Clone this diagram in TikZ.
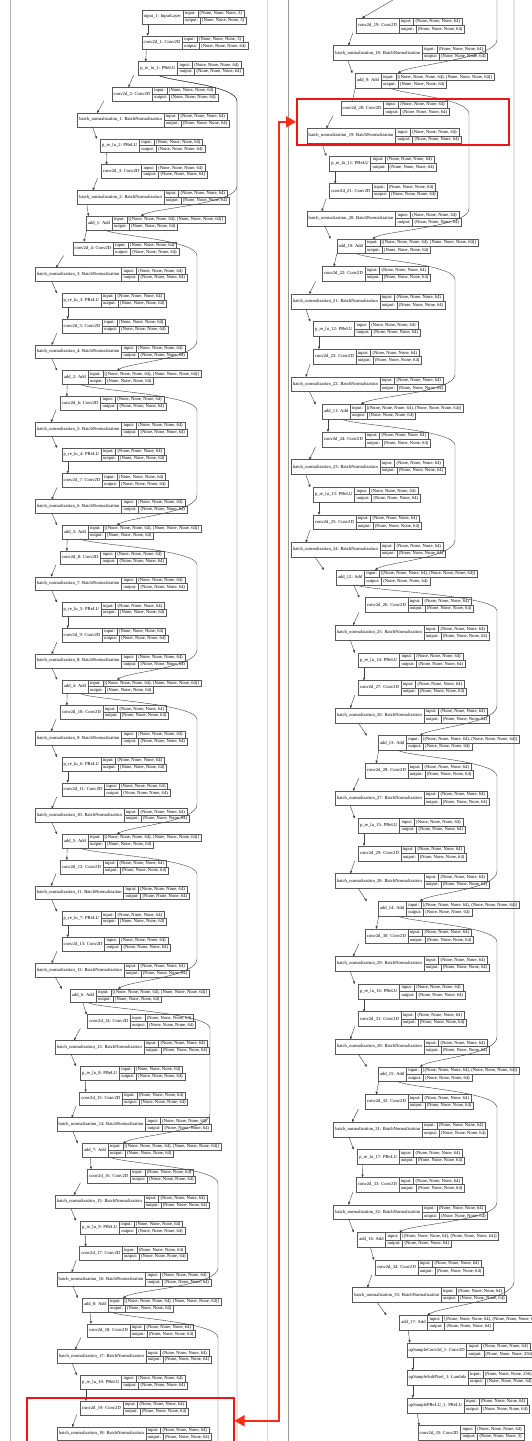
\documentclass[tikz,border=0pt]{standalone}
\usepackage{fontspec}
\setmainfont{Liberation Serif}
\usetikzlibrary{arrows.meta,calc}

\definecolor{boxred}{RGB}{240,20,20}
\definecolor{arrowred}{RGB}{250,45,20}

\newcommand\lyrfont{\fontsize{4.6}{5}\selectfont}
\newcommand\shsf{(None, None, None, 64)}
\newcommand\shadd{[(None, None, None, 64), (None, None, None, 64)]}

\newlength\lyrn \newlength\lyri \newlength\lyrs \newlength\lyrt \newlength\lyrw
% one keras layer: id, left x, row, name, input shape, output shape
\newcommand\kbox[6]{%
	\settowidth\lyrn{\lyrfont #4}\addtolength\lyrn{4pt}%
	\settowidth\lyri{\lyrfont output:}\addtolength\lyri{4pt}%
	\settowidth\lyrs{\lyrfont #5}\settowidth\lyrt{\lyrfont #6}%
	\ifdim\lyrt>\lyrs \setlength\lyrs{\lyrt}\fi
	\addtolength\lyrs{4pt}%
	\setlength\lyrw{\lyrn}\addtolength\lyrw{\lyri}\addtolength\lyrw{\lyrs}%
	\node[namecell, minimum width=\lyrn, anchor=north west] (#1) at (#2, \colytop+\colstep*#3) {#4};
	\node[halfcell, minimum width=\lyri, anchor=north west] (#1-i) at (#1.north east) {input:};
	\node[halfcell, minimum width=\lyri, anchor=north west] (#1-o) at (#1-i.south west) {output:};
	\node[halfcell, minimum width=\lyrs, anchor=north west] (#1-a) at (#1-i.north east) {#5};
	\node[halfcell, minimum width=\lyrs, anchor=north west] (#1-b) at (#1-o.north east) {#6};
	\coordinate (#1n) at ([xshift=0.5\lyrw]#1.north west);
	\coordinate (#1s) at ([xshift=0.5\lyrw]#1.south west);
}
% main flow between two layers
\newcommand\kflow[2]{\draw[link] ($(#1s)!0.4!(#1s -| #2n)$) -- ($(#2n)!0.4!(#2n -| #1s)$);}
% residual skip: from, to, start shift, x of the bend, end shift
\newcommand\kskip[5]{%
	\draw[link] ([xshift=#3]#1s) .. controls ([xshift=#3+10pt, yshift=-6pt]#1s) and ($(#4,0 |- #1s)+(0,10)$) .. ($(#4,0 |- #1s)+(0,26)$)
		-- ($(#4,0 |- #2n)+(0,-30)$) .. controls ($(#4,0 |- #2n)+(0,-12)$) and ([xshift=#5+12pt, yshift=8pt]#2n) .. ([xshift=#5]#2n);}

\begin{document}
\begin{tikzpicture}[x=1pt, y=-1pt,
		cell/.style={draw=black!65, line width=0.4pt, font=\lyrfont, inner xsep=2pt, inner ysep=0pt, outer sep=0pt, text height=3.2pt, text depth=1pt},
		namecell/.style={cell, minimum height=\rowh pt},
		halfcell/.style={cell, minimum height=0.5*\rowh pt},
		link/.style={draw=black!75, line width=0.4pt, -{Triangle[length=2.6pt, width=2.2pt]}},
		wire/.style={draw=black!75, line width=0.4pt},
		redbox/.style={draw=boxred, line width=1.6pt, inner sep=0pt, fill=none},
		redarrow/.style={draw=arrowred, line width=1.8pt, {Triangle[length=10pt, width=11pt]}-{Triangle[length=10pt, width=11pt]}}]
		\useasboundingbox (0,0) rectangle (532,1441);
		\fill[white] (0,0) rectangle (532,1441);
		\clip (0,0) rectangle (532,1441);
		\draw[black!30, line width=0.6pt] (10,0) -- (10,1441);
		\draw[black!15, line width=0.6pt] (267,0) -- (267,1441);
		\draw[black!40, line width=0.6pt] (288,0) -- (288,1441);
		%%%%%%%%% left column
		\def\colytop{10}\def\colstep{25.76}\def\rowh{13.7}
		\kbox{in1}{141.7}{0}{input\_1: InputLayer}{(None, None, None, 3)}{(None, None, None, 3)}
		\kbox{cv1}{141.7}{1}{conv2d\_1: Conv2D}{(None, None, None, 3)}{\shsf}
		\kbox{pr1}{138.3}{2}{p\_re\_lu\_1: PReLU}{\shsf}{\shsf}
		\kbox{cv2}{111.7}{3}{conv2d\_2: Conv2D}{\shsf}{\shsf}
		\kbox{bn1}{77.3}{4}{batch\_normalization\_1: BatchNormalization}{\shsf}{\shsf}
		\kbox{pr2}{100}{5}{p\_re\_lu\_2: PReLU}{\shsf}{\shsf}
		\kbox{cv3}{101}{6}{conv2d\_3: Conv2D}{\shsf}{\shsf}
		\kbox{bn2}{77.3}{7}{batch\_normalization\_2: BatchNormalization}{\shsf}{\shsf}
		\kbox{ad1}{86}{8}{add\_1: Add}{\shadd}{\shsf}
		\kbox{cv4}{72.7}{9}{conv2d\_4: Conv2D}{\shsf}{\shsf}
		\kbox{bn3}{35}{10}{batch\_normalization\_3: BatchNormalization}{\shsf}{\shsf}
		\kbox{pr3}{61.7}{11}{p\_re\_lu\_3: PReLU}{\shsf}{\shsf}
		\kbox{cv5}{61.7}{12}{conv2d\_5: Conv2D}{\shsf}{\shsf}
		\kbox{bn4}{35}{13}{batch\_normalization\_4: BatchNormalization}{\shsf}{\shsf}
		\kbox{ad2}{62}{14}{add\_2: Add}{\shadd}{\shsf}
		\kbox{cv6}{60}{15}{conv2d\_6: Conv2D}{\shsf}{\shsf}
		\kbox{bn5}{35}{16}{batch\_normalization\_5: BatchNormalization}{\shsf}{\shsf}
		\kbox{pr4}{61.7}{17}{p\_re\_lu\_4: PReLU}{\shsf}{\shsf}
		\kbox{cv7}{61.7}{18}{conv2d\_7: Conv2D}{\shsf}{\shsf}
		\kbox{bn6}{35}{19}{batch\_normalization\_6: BatchNormalization}{\shsf}{\shsf}
		\kbox{ad3}{62}{20}{add\_3: Add}{\shadd}{\shsf}
		\kbox{cv8}{60}{21}{conv2d\_8: Conv2D}{\shsf}{\shsf}
		\kbox{bn7}{35}{22}{batch\_normalization\_7: BatchNormalization}{\shsf}{\shsf}
		\kbox{pr5}{61.7}{23}{p\_re\_lu\_5: PReLU}{\shsf}{\shsf}
		\kbox{cv9}{61.7}{24}{conv2d\_9: Conv2D}{\shsf}{\shsf}
		\kbox{bn8}{35}{25}{batch\_normalization\_8: BatchNormalization}{\shsf}{\shsf}
		\kbox{ad4}{62}{26}{add\_4: Add}{\shadd}{\shsf}
		\kbox{cv10}{60}{27}{conv2d\_10: Conv2D}{\shsf}{\shsf}
		\kbox{bn9}{35}{28}{batch\_normalization\_9: BatchNormalization}{\shsf}{\shsf}
		\kbox{pr6}{61.7}{29}{p\_re\_lu\_6: PReLU}{\shsf}{\shsf}
		\kbox{cv11}{61.7}{30}{conv2d\_11: Conv2D}{\shsf}{\shsf}
		\kbox{bn10}{35}{31}{batch\_normalization\_10: BatchNormalization}{\shsf}{\shsf}
		\kbox{ad5}{62}{32}{add\_5: Add}{\shadd}{\shsf}
		\kbox{cv12}{60}{33}{conv2d\_12: Conv2D}{\shsf}{\shsf}
		\kbox{bn11}{35}{34}{batch\_normalization\_11: BatchNormalization}{\shsf}{\shsf}
		\kbox{pr7}{61.7}{35}{p\_re\_lu\_7: PReLU}{\shsf}{\shsf}
		\kbox{cv13}{61.7}{36}{conv2d\_13: Conv2D}{\shsf}{\shsf}
		\kbox{bn12}{35}{37}{batch\_normalization\_12: BatchNormalization}{\shsf}{\shsf}
		\kbox{ad6}{70}{38}{add\_6: Add}{\shadd}{\shsf}
		\kbox{cv14}{87.3}{39}{conv2d\_14: Conv2D}{\shsf}{\shsf}
		\kbox{bn13}{55}{40}{batch\_normalization\_13: BatchNormalization}{\shsf}{\shsf}
		\kbox{pr8}{80}{41}{p\_re\_lu\_8: PReLU}{\shsf}{\shsf}
		\kbox{cv15}{79.3}{42}{conv2d\_15: Conv2D}{\shsf}{\shsf}
		\kbox{bn14}{56.7}{43}{batch\_normalization\_14: BatchNormalization}{\shsf}{\shsf}
		\kbox{ad7}{82}{44}{add\_7: Add}{\shadd}{\shsf}
		\kbox{cv16}{87.3}{45}{conv2d\_16: Conv2D}{\shsf}{\shsf}
		\kbox{bn15}{55}{46}{batch\_normalization\_15: BatchNormalization}{\shsf}{\shsf}
		\kbox{pr9}{80}{47}{p\_re\_lu\_9: PReLU}{\shsf}{\shsf}
		\kbox{cv17}{79.3}{48}{conv2d\_17: Conv2D}{\shsf}{\shsf}
		\kbox{bn16}{56.7}{49}{batch\_normalization\_16: BatchNormalization}{\shsf}{\shsf}
		\kbox{ad8}{82}{50}{add\_8: Add}{\shadd}{\shsf}
		\kbox{cv18}{87}{51}{conv2d\_18: Conv2D}{\shsf}{\shsf}
		\kbox{bn17}{57}{52}{batch\_normalization\_17: BatchNormalization}{\shsf}{\shsf}
		\kbox{pr10}{80}{53}{p\_re\_lu\_10: PReLU}{\shsf}{\shsf}
		\kbox{cv19}{80}{54}{conv2d\_19: Conv2D}{\shsf}{\shsf}
		\kbox{bn18}{57}{55}{batch\_normalization\_18: BatchNormalization}{\shsf}{\shsf}
		%%%%%%%%%
		\kflow{in1}{cv1} \kflow{cv1}{pr1} \kflow{pr1}{cv2}
		\kflow{cv2}{bn1} \kflow{bn1}{pr2} \kflow{pr2}{cv3} \kflow{cv3}{bn2} \kflow{bn2}{ad1} \kflow{ad1}{cv4}
		\kflow{cv4}{bn3} \kflow{bn3}{pr3} \kflow{pr3}{cv5} \kflow{cv5}{bn4} \kflow{bn4}{ad2} \kflow{ad2}{cv6}
		\kflow{cv6}{bn5} \kflow{bn5}{pr4} \kflow{pr4}{cv7} \kflow{cv7}{bn6} \kflow{bn6}{ad3} \kflow{ad3}{cv8}
		\kflow{cv8}{bn7} \kflow{bn7}{pr5} \kflow{pr5}{cv9} \kflow{cv9}{bn8} \kflow{bn8}{ad4} \kflow{ad4}{cv10}
		\kflow{cv10}{bn9} \kflow{bn9}{pr6} \kflow{pr6}{cv11} \kflow{cv11}{bn10} \kflow{bn10}{ad5} \kflow{ad5}{cv12}
		\kflow{cv12}{bn11} \kflow{bn11}{pr7} \kflow{pr7}{cv13} \kflow{cv13}{bn12} \kflow{bn12}{ad6} \kflow{ad6}{cv14}
		\kflow{cv14}{bn13} \kflow{bn13}{pr8} \kflow{pr8}{cv15} \kflow{cv15}{bn14} \kflow{bn14}{ad7} \kflow{ad7}{cv16}
		\kflow{cv16}{bn15} \kflow{bn15}{pr9} \kflow{pr9}{cv17} \kflow{cv17}{bn16} \kflow{bn16}{ad8} \kflow{ad8}{cv18}
		\kflow{cv18}{bn17} \kflow{bn17}{pr10} \kflow{pr10}{cv19} \kflow{cv19}{bn18}
		%%%%%%%%%
		\coordinate (lsk) at (237,1460);
		\coordinate (lsk9) at (218,1460);
		\draw[wire] ([xshift=14pt]pr1s) .. controls ([xshift=24pt, yshift=-6pt]pr1s) and ($(237,0 |- pr1s)+(0,10)$) .. ($(237,0 |- pr1s)+(0,26)$) -- (lsk);
		\kskip{pr1}{ad1}{14pt}{237}{49pt}
		\kskip{ad1}{ad2}{12pt}{197}{49pt}
		\kskip{ad2}{ad3}{12pt}{197}{49pt}
		\kskip{ad3}{ad4}{12pt}{197}{49pt}
		\kskip{ad4}{ad5}{12pt}{197}{49pt}
		\kskip{ad5}{ad6}{12pt}{197}{42pt}
		\kskip{ad6}{ad7}{12pt}{210}{35pt}
		\kskip{ad7}{ad8}{22pt}{218}{35pt}
		\draw[wire] ([xshift=22pt]ad8s) .. controls ([xshift=32pt, yshift=-6pt]ad8s) and ($(218,0 |- ad8s)+(0,10)$) .. ($(218,0 |- ad8s)+(0,26)$) -- (lsk9);
		%%%%%%%%% right column
		\def\colytop{18}\def\colstep{27.6}\def\rowh{14.8}
		\kbox{rcv19}{356}{0}{conv2d\_19: Conv2D}{\shsf}{\shsf}
		\kbox{rbn18}{333.3}{1}{batch\_normalization\_18: BatchNormalization}{\shsf}{\shsf}
		\kbox{ad9}{355}{2}{add\_9: Add}{\shadd}{\shsf}
		\kbox{cv20}{340.7}{3}{conv2d\_20: Conv2D}{\shsf}{\shsf}
		\kbox{bn19}{306.7}{4}{batch\_normalization\_19: BatchNormalization}{\shsf}{\shsf}
		\kbox{pr11}{329.3}{5}{p\_re\_lu\_11: PReLU}{\shsf}{\shsf}
		\kbox{cv21}{329.3}{6}{conv2d\_21: Conv2D}{\shsf}{\shsf}
		\kbox{bn20}{306.7}{7}{batch\_normalization\_20: BatchNormalization}{\shsf}{\shsf}
		\kbox{ad10}{336.7}{8}{add\_10: Add}{\shadd}{\shsf}
		\kbox{cv22}{322}{9}{conv2d\_22: Conv2D}{\shsf}{\shsf}
		\kbox{bn21}{291}{10}{batch\_normalization\_21: BatchNormalization}{\shsf}{\shsf}
		\kbox{pr12}{313}{11}{p\_re\_lu\_12: PReLU}{\shsf}{\shsf}
		\kbox{cv23}{313}{12}{conv2d\_23: Conv2D}{\shsf}{\shsf}
		\kbox{bn22}{291}{13}{batch\_normalization\_22: BatchNormalization}{\shsf}{\shsf}
		\kbox{ad11}{322}{14}{add\_11: Add}{\shadd}{\shsf}
		\kbox{cv24}{322}{15}{conv2d\_24: Conv2D}{\shsf}{\shsf}
		\kbox{bn23}{291}{16}{batch\_normalization\_23: BatchNormalization}{\shsf}{\shsf}
		\kbox{pr13}{313}{17}{p\_re\_lu\_13: PReLU}{\shsf}{\shsf}
		\kbox{cv25}{313}{18}{conv2d\_25: Conv2D}{\shsf}{\shsf}
		\kbox{bn24}{291}{19}{batch\_normalization\_24: BatchNormalization}{\shsf}{\shsf}
		\kbox{ad12}{336}{20}{add\_12: Add}{\shadd}{\shsf}
		\kbox{cv26}{365}{21}{conv2d\_26: Conv2D}{\shsf}{\shsf}
		\kbox{bn25}{335}{22}{batch\_normalization\_25: BatchNormalization}{\shsf}{\shsf}
		\kbox{pr14}{358}{23}{p\_re\_lu\_14: PReLU}{\shsf}{\shsf}
		\kbox{cv27}{358}{24}{conv2d\_27: Conv2D}{\shsf}{\shsf}
		\kbox{bn26}{335}{25}{batch\_normalization\_26: BatchNormalization}{\shsf}{\shsf}
		\kbox{ad13}{378}{26}{add\_13: Add}{\shadd}{\shsf}
		\kbox{cv28}{365}{27}{conv2d\_28: Conv2D}{\shsf}{\shsf}
		\kbox{bn27}{335}{28}{batch\_normalization\_27: BatchNormalization}{\shsf}{\shsf}
		\kbox{pr15}{358}{29}{p\_re\_lu\_15: PReLU}{\shsf}{\shsf}
		\kbox{cv29}{358}{30}{conv2d\_29: Conv2D}{\shsf}{\shsf}
		\kbox{bn28}{335}{31}{batch\_normalization\_28: BatchNormalization}{\shsf}{\shsf}
		\kbox{ad14}{378}{32}{add\_14: Add}{\shadd}{\shsf}
		\kbox{cv30}{365}{33}{conv2d\_30: Conv2D}{\shsf}{\shsf}
		\kbox{bn29}{335}{34}{batch\_normalization\_29: BatchNormalization}{\shsf}{\shsf}
		\kbox{pr16}{358}{35}{p\_re\_lu\_16: PReLU}{\shsf}{\shsf}
		\kbox{cv31}{358}{36}{conv2d\_31: Conv2D}{\shsf}{\shsf}
		\kbox{bn30}{335}{37}{batch\_normalization\_30: BatchNormalization}{\shsf}{\shsf}
		\kbox{ad15}{378}{38}{add\_15: Add}{\shadd}{\shsf}
		\kbox{cv32}{365}{39}{conv2d\_32: Conv2D}{\shsf}{\shsf}
		\kbox{bn31}{333.3}{40}{batch\_normalization\_31: BatchNormalization}{\shsf}{\shsf}
		\kbox{pr17}{357.3}{41}{p\_re\_lu\_17: PReLU}{\shsf}{\shsf}
		\kbox{cv33}{356}{42}{conv2d\_33: Conv2D}{\shsf}{\shsf}
		\kbox{bn32}{333.3}{43}{batch\_normalization\_32: BatchNormalization}{\shsf}{\shsf}
		\kbox{ad16}{357.3}{44}{add\_16: Add}{\shadd}{\shsf}
		\kbox{cv34}{375}{45}{conv2d\_34: Conv2D}{\shsf}{\shsf}
		\kbox{bn33}{352.3}{46}{batch\_normalization\_33: BatchNormalization}{\shsf}{\shsf}
		\kbox{ad17}{399.3}{47}{add\_17: Add}{\shadd}{\shsf}
		\kbox{usc}{406.7}{48}{upSampleConv2d\_1: Conv2D}{\shsf}{(None, None, None, 256)}
		\kbox{usp}{406.7}{49}{upSampleSubPixel\_1: Lambda}{(None, None, None, 256)}{\shsf}
		\kbox{upr}{406.7}{50}{upSamplePReLU\_1: PReLU}{\shsf}{\shsf}
		\kbox{cv35}{417.7}{51}{conv2d\_35: Conv2D}{\shsf}{(None, None, None, 3)}
		%%%%%%%%%
		\coordinate (rtopm) at (410,-10);
		\coordinate (rtop) at (497,-10);
		\coordinate (rsk) at (514,-10);
		\draw[link] (rtopm) -- (rcv19n);
		\kflow{rcv19}{rbn18} \kflow{rbn18}{ad9} \kflow{ad9}{cv20}
		\kflow{cv20}{bn19} \kflow{bn19}{pr11} \kflow{pr11}{cv21} \kflow{cv21}{bn20} \kflow{bn20}{ad10} \kflow{ad10}{cv22}
		\kflow{cv22}{bn21} \kflow{bn21}{pr12} \kflow{pr12}{cv23} \kflow{cv23}{bn22} \kflow{bn22}{ad11} \kflow{ad11}{cv24}
		\kflow{cv24}{bn23} \kflow{bn23}{pr13} \kflow{pr13}{cv25} \kflow{cv25}{bn24} \kflow{bn24}{ad12} \kflow{ad12}{cv26}
		\kflow{cv26}{bn25} \kflow{bn25}{pr14} \kflow{pr14}{cv27} \kflow{cv27}{bn26} \kflow{bn26}{ad13} \kflow{ad13}{cv28}
		\kflow{cv28}{bn27} \kflow{bn27}{pr15} \kflow{pr15}{cv29} \kflow{cv29}{bn28} \kflow{bn28}{ad14} \kflow{ad14}{cv30}
		\kflow{cv30}{bn29} \kflow{bn29}{pr16} \kflow{pr16}{cv31} \kflow{cv31}{bn30} \kflow{bn30}{ad15} \kflow{ad15}{cv32}
		\kflow{cv32}{bn31} \kflow{bn31}{pr17} \kflow{pr17}{cv33} \kflow{cv33}{bn32} \kflow{bn32}{ad16} \kflow{ad16}{cv34}
		\kflow{cv34}{bn33} \kflow{bn33}{ad17} \kflow{ad17}{usc} \kflow{usc}{usp} \kflow{usp}{upr} \kflow{upr}{cv35}
		%%%%%%%%%
		\draw[link] (rtop) -- (497,40) .. controls (497,58) and ([xshift=49pt, yshift=8pt]ad9n) .. ([xshift=37pt]ad9n);
		\kskip{ad9}{ad10}{29pt}{469}{30pt}
		\kskip{ad10}{ad11}{14pt}{455}{33pt}
		\kskip{ad11}{ad12}{14pt}{455}{33pt}
		\kskip{ad12}{ad13}{14pt}{497}{36pt}
		\kskip{ad13}{ad14}{14pt}{497}{36pt}
		\kskip{ad14}{ad15}{14pt}{497}{36pt}
		\kskip{ad15}{ad16}{14pt}{497}{36pt}
		\draw[link] (rsk) -- (514,1282) .. controls (514,1300) and ([xshift=34pt, yshift=8pt]ad17n) .. ([xshift=22pt]ad17n);
		%%%%%%%%% marked blocks
		\node[redbox, minimum width=207pt, minimum height=46pt, anchor=north west] (redL) at (26,1397) {};
		\node[redbox, minimum width=212pt, minimum height=46pt, anchor=north west] (redR) at (296,98) {};
		\draw[redarrow] (redL.east) -- ++(44,0) |- (redR.west);
	\end{tikzpicture}
\end{document}
